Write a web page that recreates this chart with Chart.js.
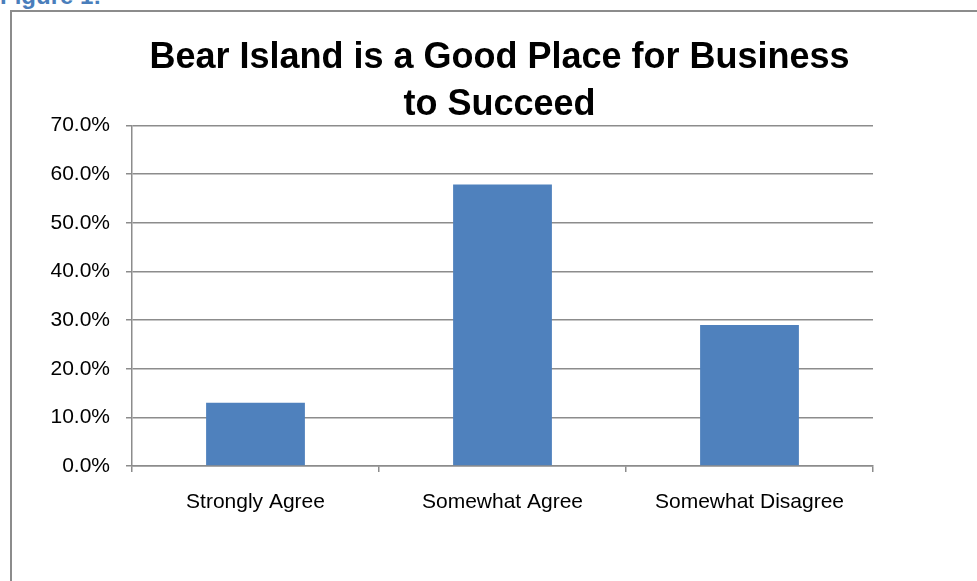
<!DOCTYPE html>
<html lang="en">
<head>
<meta charset="UTF-8">
<title>Bear Island Business Survey</title>
<script src="https://cdn.jsdelivr.net/npm/chart.js"></script>
<style>
    body { margin: 0; background: #fff; }
    .fig-label {
        position: absolute; left: 0; top: -16px;
        font: bold 24px "Liberation Sans", Arial, sans-serif;
        color: #4a7ebb; line-height: 24px;
    }
    .frame {
        position: absolute; left: 10px; top: 10px;
        width: 1000px; height: 600px;
        border-left: 2px solid #8c8c8c; border-top: 2px solid #8c8c8c;
    }
    #wrap { position: absolute; left: 0; top: 0; width: 977px; height: 581px; }
</style>
</head>
<body>
<div class="fig-label">Figure 1:</div>
<div class="frame"></div>
<div id="wrap"><canvas id="chart"></canvas></div>

<script>
// survey responses (percent of respondents)
const categories = ["Strongly Agree", "Somewhat Agree", "Somewhat Disagree"];
const responses = [13.0, 57.9, 29.0];
const titleLines = ["Bear Island is a Good Place for Business", "to Succeed"];
const yMax = 70;
const yStep = 10;

const gridColor = "#8c8c8c";
const font = "'Liberation Sans', Arial, sans-serif";

new Chart(document.getElementById("chart"), {
    type: "bar",
    data: {
        labels: categories,
        datasets: [{
            data: responses,
            backgroundColor: "#4f81bd",
            borderWidth: 0,
            barPercentage: 0.4,
            categoryPercentage: 1.0
        }]
    },
    options: {
        responsive: true,
        maintainAspectRatio: false,
        animation: false,
        layout: { padding: { left: 22, right: 0, top: 0, bottom: 0 } },
        plugins: {
            legend: { display: false },
            tooltip: { enabled: false },
            title: {
                display: true,
                text: titleLines,
                color: "#000",
                font: { family: font, size: 36, weight: "bold", lineHeight: 1.3 },
                padding: { top: 35, bottom: -3 }
            }
        },
        scales: {
            x: {
                grid: {
                    drawOnChartArea: false,
                    drawTicks: true,
                    tickLength: 6,
                    color: gridColor,
                    lineWidth: 1.5
                },
                border: { color: gridColor, width: 1.5 },
                ticks: {
                    color: "#000",
                    font: { family: font, size: 21 },
                    padding: 18
                },
                afterFit: axis => { axis.height = 115; }
            },
            y: {
                min: 0,
                max: yMax,
                ticks: {
                    stepSize: yStep,
                    color: "#000",
                    font: { family: font, size: 21 },
                    padding: 16,
                    callback: v => v.toFixed(1) + "%"
                },
                grid: {
                    color: gridColor,
                    lineWidth: 1.5,
                    tickLength: 6
                },
                border: { color: gridColor, width: 1.5 },
                afterFit: axis => { axis.width = 110; }
            },
            // empty space on the right of the plot
            yRight: {
                position: "right",
                grid: { display: false },
                border: { display: false },
                ticks: { display: false },
                afterFit: axis => { axis.width = 104; }
            }
        }
    }
});
</script>
</body>
</html>
